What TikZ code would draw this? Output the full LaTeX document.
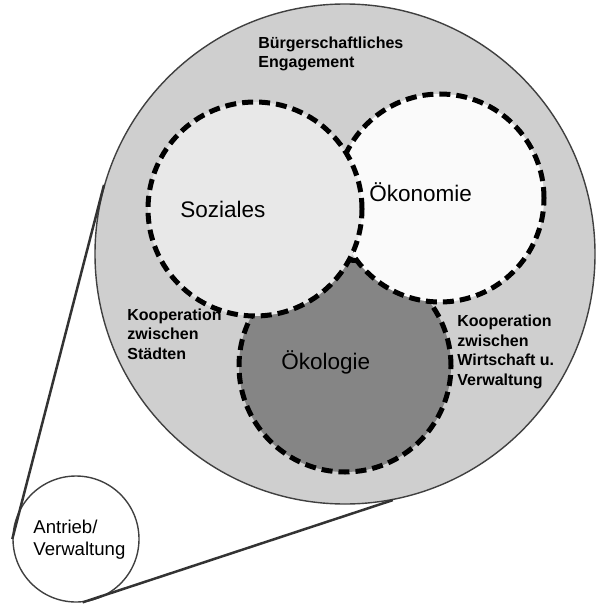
\documentclass[tikz,border=0pt]{standalone}
\usepackage{fontspec}
\setmainfont{Liberation Sans}

\begin{document}
\begin{tikzpicture}[x=1pt, y=-1pt, thick,
    ring/.style={circle, draw=black!75, line width=1.4pt, inner sep=0pt},
    area/.style={circle, draw=black, line width=5pt, dash pattern=on 11pt off 6pt, inner sep=0pt},
    boldtext/.style={font=\bfseries\fontsize{16}{19.5}\selectfont, align=left, anchor=base west, inner sep=0pt},
    bigtext/.style={font=\fontsize{22.5}{26}\selectfont, anchor=base west, inner sep=0pt}]
    \useasboundingbox (0,0) rectangle (609,604);
    % outer ring and the three areas
    \node[ring, fill=black!19, minimum size=500pt] (buerger) at (345,254) {};
    \node[area, fill=black!48, minimum size=212pt] (oekologie) at (345,366) {};
    \node[area, fill=black!2, minimum size=208pt] (oekonomie) at (440,198) {};
    \node[area, fill=black!9, minimum size=214pt] (sozial) at (255,209) {};
    % zoom lines to the small circle
    \node[ring, fill=white, minimum size=126pt] (antrieb) at (76,539) {};
    \draw[black!80, line width=2.5pt] (antrieb.180) -- (buerger.164.5);
    \draw[black!80, line width=2.5pt] (antrieb.-84) -- (buerger.-79);
    % labels (base = last line)
    \node[boldtext] (engagement) at (258,68) {Bürgerschaftliches\\Engagement};
    \node[bigtext] (soziales) at (180,217) {Soziales};
    \node[bigtext] (oekonomietext) at (369,201) {Ökonomie};
    \node[bigtext] (oekologietext) at (281,369) {Ökologie};
    \node[boldtext] (staedte) at (127,359) {Kooperation\\zwischen\\Städten};
    \node[boldtext] (wirtschaft) at (457,385) {Kooperation\\zwischen\\Wirtschaft u.\\Verwaltung};
    \node[font=\fontsize{18.6}{22}\selectfont, align=left, anchor=base west, inner sep=0pt] (antriebtext) at (33,555) {Antrieb/\\Verwaltung};
\end{tikzpicture}
\end{document}
